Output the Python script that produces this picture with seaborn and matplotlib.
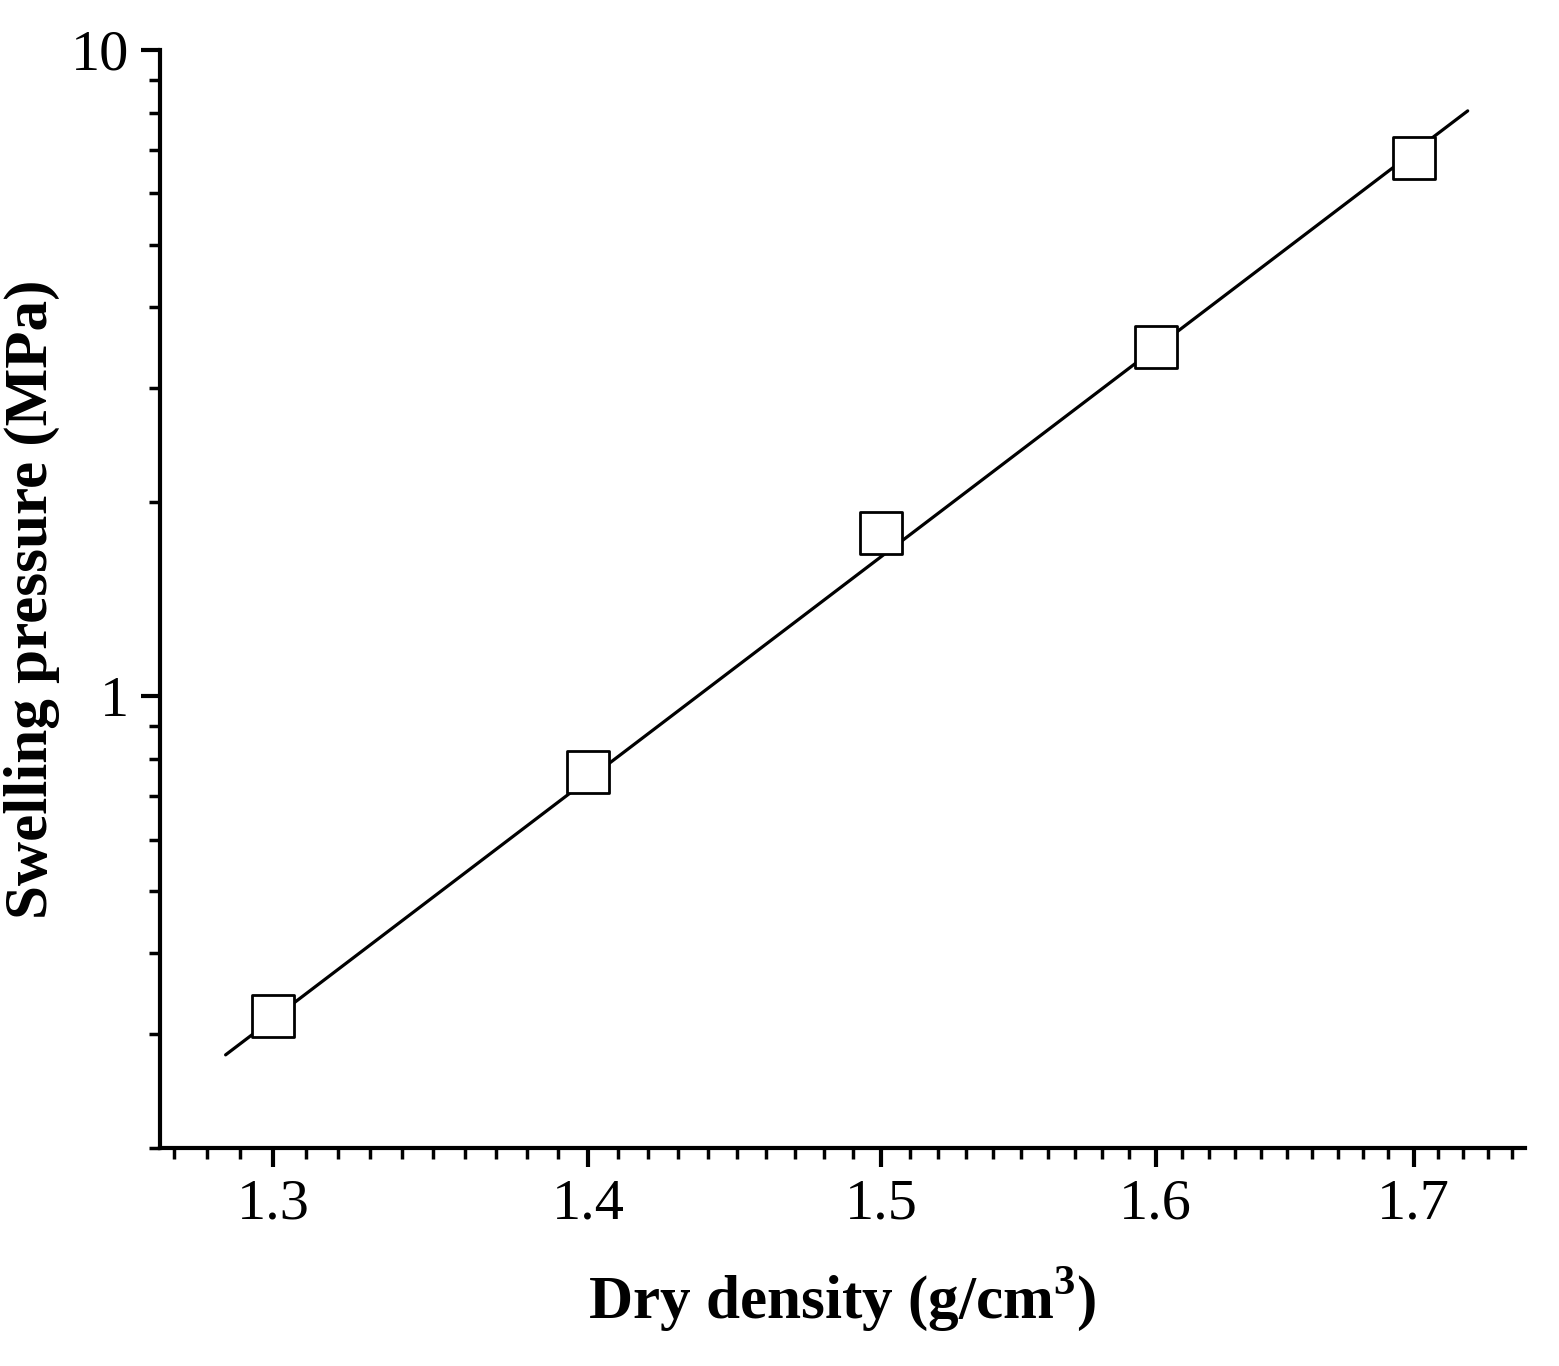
import matplotlib
matplotlib.use("Agg")
import matplotlib.pyplot as plt
import seaborn as sns
import numpy as np
from matplotlib.ticker import FixedLocator, NullFormatter, LogLocator

sns.set_theme(style="ticks")
plt.rcParams['font.family'] = ['Liberation Serif', 'DejaVu Serif']
plt.rcParams['mathtext.fontset'] = 'custom'
plt.rcParams['mathtext.rm'] = 'Liberation Serif'
plt.rcParams['mathtext.bf'] = 'Liberation Serif:bold'
plt.rcParams['text.color'] = 'black'
plt.rcParams['axes.labelcolor'] = 'black'
plt.rcParams['xtick.labelcolor'] = 'black'
plt.rcParams['ytick.labelcolor'] = 'black'

density = [1.3, 1.4, 1.5, 1.6, 1.7]
pressure = [0.32, 0.763, 1.79, 3.47, 6.81]
fit_x = [1.2856, 1.7218]
fit_y = [0.2787, 8.05]
xticks = [1.3, 1.4, 1.5, 1.6, 1.7]
xtick_labels = ["1.3", "1.4", "1.5", "1.6", "1.7"]

fig = plt.figure(figsize=(15.59, 13.66), dpi=100)
ax = fig.add_axes([0.1026, 0.1596, 0.8755, 0.8038])
ax.set_xscale('log')
ax.set_yscale('log')
sns.lineplot(x=fit_x, y=fit_y, ax=ax, color='black', linewidth=2.3)
sns.scatterplot(x=density, y=pressure, ax=ax, marker='s', s=900,
                facecolor='white', edgecolor='black', linewidth=2.0, zorder=3)
ax.set_xlim(1.2659, 1.7451)
ax.set_ylim(0.2, 10)
ax.xaxis.set_major_locator(FixedLocator(xticks))
ax.set_xticklabels(xtick_labels)
ax.xaxis.set_minor_locator(FixedLocator([round(v, 2) for v in np.arange(1.27, 1.75, 0.01)]))
ax.xaxis.set_minor_formatter(NullFormatter())
ax.yaxis.set_major_locator(FixedLocator([1, 10]))
ax.set_yticklabels(["1", "10"])
ax.yaxis.set_minor_locator(LogLocator(base=10, subs=np.arange(2, 10)))
ax.yaxis.set_minor_formatter(NullFormatter())
for s in ['top', 'right']:
    ax.spines[s].set_visible(False)
for s in ['left', 'bottom']:
    ax.spines[s].set_linewidth(3)
    ax.spines[s].set_color('black')
ax.tick_params(which='major', length=14, width=3, labelsize=42, color='black', pad=8)
ax.tick_params(which='minor', length=8, width=2.5, color='black')
ax.set_xlabel("Dry density (g/cm$^\\mathbf{3}$)", fontsize=44, fontweight='bold', labelpad=25)
ax.set_ylabel("Swelling pressure (MPa)", fontsize=44, fontweight='bold', labelpad=8)
fig.savefig("out.png", dpi=100, facecolor='white')
